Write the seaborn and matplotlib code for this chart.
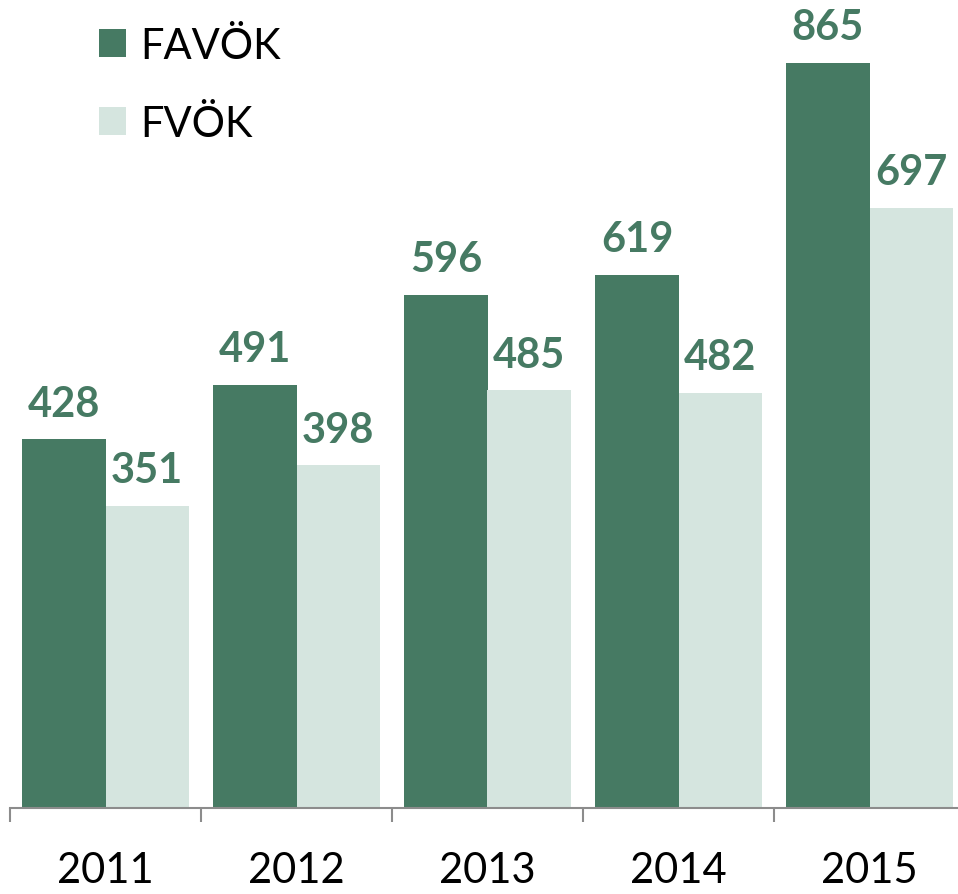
import numpy as np
import pandas as pd
import seaborn as sns
import matplotlib.pyplot as plt
from matplotlib.ticker import FixedLocator

years = ['2011', '2012', '2013', '2014', '2015']
favok = [428, 491, 596, 619, 865]
fvok = [351, 398, 485, 482, 697]
series = ['FAVÖK', 'FVÖK']
colors = ['#467A63', '#D5E5DF']

df = pd.DataFrame({
    'year': years * 2,
    'value': favok + fvok,
    'series': [series[0]] * len(years) + [series[1]] * len(years),
})

sns.set_style('white')
plt.rcParams['font.family'] = ['Lato', 'DejaVu Sans']
plt.rcParams['text.color'] = 'black'

fig = plt.figure(figsize=(9.58, 8.95), dpi=100)
# axes: x from px 10 to 965, y from px 809 (baseline) to 0
ax = fig.add_axes([10 / 958, (895 - 809) / 895, 955 / 958, 809 / 895])

sns.barplot(data=df, x='year', y='value', hue='series', palette=colors,
            width=0.87, saturation=1, linewidth=0, ax=ax, legend=True)

ax.set_ylim(0, 939.3)
ax.set_xlim(-0.5, 4.5)

for cont in ax.containers:
    ax.bar_label(cont, padding=12, fontsize=30, fontweight='bold', color=colors[0])

for s in ['top', 'right', 'left']:
    ax.spines[s].set_visible(False)
ax.spines['bottom'].set_color('#8C8C8C')
ax.spines['bottom'].set_linewidth(1.5)

ax.set_yticks([])
ax.set_xlabel('')
ax.set_ylabel('')
ax.tick_params(axis='x', which='major', length=0, labelsize=30, pad=31, labelcolor='black')
ax.xaxis.set_minor_locator(FixedLocator(np.arange(-0.5, 5.0, 1.0)))
ax.tick_params(axis='x', which='minor', bottom=True, length=10, width=1.5,
               color='#8C8C8C', direction='out')

handles, labels = ax.get_legend_handles_labels()
ax.legend(handles, labels, loc='upper left', bbox_to_anchor=(99 / 958, 1 - 28 / 895),
          bbox_transform=fig.transFigure, frameon=False, fontsize=30,
          handlelength=0.65, handleheight=0.65, handletextpad=0.35,
          labelspacing=0.95, borderaxespad=0, borderpad=0)

plt.savefig('out.png', dpi=100)
